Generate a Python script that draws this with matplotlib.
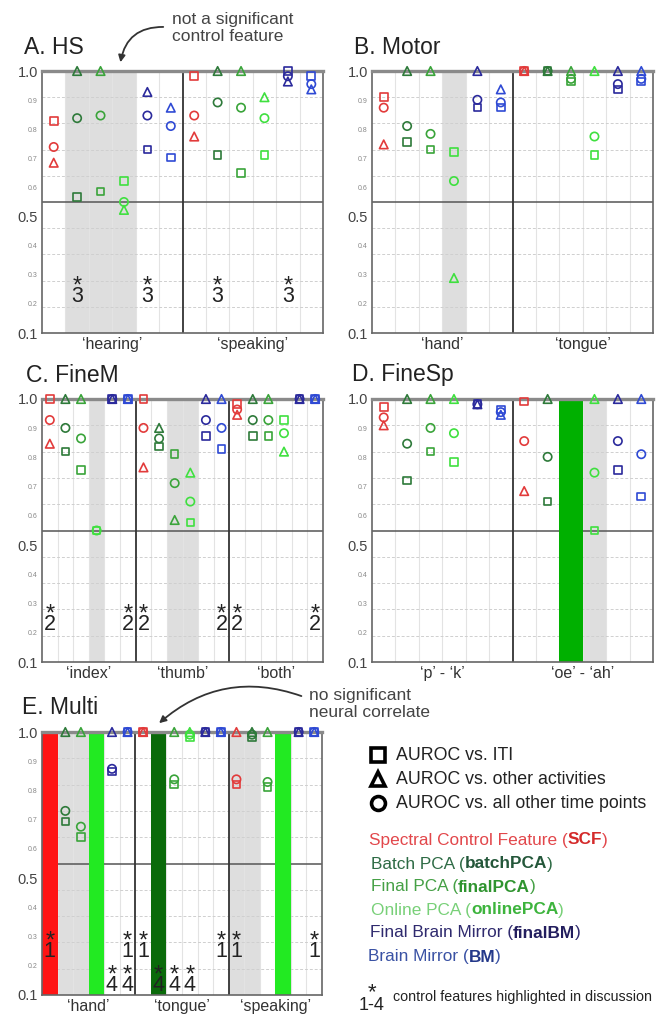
import numpy as np
import matplotlib
matplotlib.use('Agg')
import matplotlib.pyplot as plt

plt.rcParams['font.family'] = ['Liberation Sans', 'DejaVu Sans']

W, H = 657, 1017
nan = np.nan

# six feature types repeated inside every task group
methods = ['SCF', 'batchPCA', 'finalPCA', 'onlinePCA', 'finalBM', 'BM']
marker_col = ['#e23b3b', '#2e7a3a', '#3aa43a', '#3fe03f', '#2b2a9c', '#2f4ad4']
bar_col = ['#ff1414', '#0a6a0a', '#00b000', '#22ea22', '#2b2a9c', '#2f4ad4']

# A. HS
A_groups = ['\u2018hearing\u2019', '\u2018speaking\u2019']
A_sq = [0.81, 0.52, 0.54, 0.58, 0.70, 0.67, 0.98, 0.68, 0.61, 0.68, 1.00, 0.98]
A_tri = [0.65, 1.00, 1.00, 0.47, 0.92, 0.86, 0.75, 1.00, 1.00, 0.90, 0.96, 0.93]
A_cir = [0.71, 0.82, 0.83, 0.50, 0.83, 0.79, 0.83, 0.88, 0.86, 0.82, 0.98, 0.95]
A_shade = [1, 2, 3]
A_bars = []
A_stars = [([1, 4, 7, 10], '3', 0.196)]

# B. Motor
B_groups = ['\u2018hand\u2019', '\u2018tongue\u2019']
B_sq = [0.90, 0.73, 0.70, 0.69, 0.86, 0.86, 1.00, 1.00, 0.96, 0.68, 0.93, 0.96]
B_tri = [0.72, 1.00, 1.00, 0.21, 1.00, 0.93, 1.00, 1.00, 1.00, 1.00, 1.00, 1.00]
B_cir = [0.86, 0.79, 0.76, 0.58, 0.89, 0.88, 1.00, 1.00, 0.97, 0.75, 0.95, 0.97]
B_shade = [3]
B_bars = []
B_stars = []

# C. FineM
C_groups = ['\u2018index\u2019', '\u2018thumb\u2019', '\u2018both\u2019']
C_sq = [1.00, 0.80, 0.73, 0.50, 1.00, 1.00, 1.00, 0.82, 0.79, 0.53, 0.86, 0.81,
        0.98, 0.86, 0.86, 0.92, 1.00, 1.00]
C_tri = [0.83, 1.00, 1.00, nan, 1.00, 1.00, 0.74, 0.89, 0.54, 0.72, 1.00, 1.00,
         0.94, 1.00, 1.00, 0.80, 1.00, 1.00]
C_cir = [0.92, 0.89, 0.85, 0.50, 1.00, 1.00, 0.89, 0.85, 0.68, 0.61, 0.92, 0.89,
         0.96, 0.92, 0.92, 0.87, 1.00, 1.00]
C_shade = [3, 8, 9]
C_bars = []
C_stars = [([0, 5, 6, 11, 12, 17], '2', 0.2)]

# D. FineSp
D_groups = ['\u2018p\u2019 - \u2018k\u2019', '\u2018oe\u2019 - \u2018ah\u2019']
D_sq = [0.97, 0.69, 0.80, 0.76, 0.98, 0.96, 0.99, 0.61, nan, 0.50, 0.73, 0.63]
D_tri = [0.90, 1.00, 1.00, 1.00, 0.98, 0.94, 0.65, 1.00, nan, 1.00, 1.00, 1.00]
D_cir = [0.93, 0.83, 0.89, 0.87, 0.98, 0.95, 0.84, 0.78, nan, 0.72, 0.84, 0.79]
D_shade = [9]
D_bars = [8]
D_stars = []

# E. Multi
E_groups = ['\u2018hand\u2019', '\u2018tongue\u2019', '\u2018speaking\u2019']
E_sq = [nan, 0.66, 0.60, nan, 0.85, 1.00, 1.00, nan, 0.80, 0.98, 1.00, 1.00,
        0.80, 0.98, 0.79, nan, 1.00, 1.00]
E_tri = [nan, 1.00, 1.00, nan, 1.00, 1.00, 1.00, nan, 1.00, 1.00, 1.00, 1.00,
         1.00, 1.00, 1.00, nan, 1.00, 1.00]
E_cir = [nan, 0.70, 0.64, nan, 0.86, 1.00, 1.00, nan, 0.82, 0.99, 1.00, 1.00,
         0.82, 0.99, 0.81, nan, 1.00, 1.00]
E_shade = [1, 2, 12, 13]
E_bars = [0, 3, 7, 15]
E_stars = [([0, 5, 6, 11, 12, 17], '1', 0.222), ([4, 5, 7, 8, 9], '4', 0.095)]

ytick_labels = ['1.0', '0.9', '0.8', '0.7', '0.6', '0.5', '0.4', '0.3', '0.2', '0.1']


def px_rect(x0, y0, x1, y1):
    return [x0 / W, 1 - y1 / H, (x1 - x0) / W, (y1 - y0) / H]


def draw_panel(fig, rect, title, title_xy, groups, sq, tri, cir, shade, bars, stars):
    ax = fig.add_axes(px_rect(*rect))
    n = len(sq)
    x = np.arange(n)
    ax.set_xlim(-0.5, n - 0.5)
    ax.set_ylim(0, 1.0)

    for i in shade:
        ax.axvspan(i - 0.5, i + 0.5, color='#dedede', zorder=0, lw=0)
    for v in np.arange(1, 10) / 10:
        if abs(v - 0.5) < 1e-6:
            ax.axhline(v, color='#555555', lw=1.1, zorder=1.2)
        else:
            ax.axhline(v, color='#cfcfcf', lw=0.7, ls=(0, (3, 2)), zorder=1)
    for i in range(1, n):
        if i % 6 == 0:
            ax.axvline(i - 0.5, color='#333333', lw=1.3, zorder=1.3)
        else:
            ax.axvline(i - 0.5, color='#e3e3e3', lw=0.8, zorder=0.9)
    for i in bars:
        ax.axvspan(i - 0.5, i + 0.5, color=bar_col[i % 6], zorder=1.5, lw=0)

    cols = [marker_col[i % 6] for i in range(n)]
    for vals, m, s in [(cir, 'o', 36), (sq, 's', 30), (tri, '^', 38)]:
        vals = np.asarray(vals, float)
        ok = ~np.isnan(vals)
        ax.scatter(x[ok], vals[ok], marker=m, s=s, facecolors='none',
                   edgecolors=[c for c, k in zip(cols, ok) if k],
                   linewidths=1.2, zorder=3, clip_on=False)

    # asterisk + number marks (the asterisk glyph sits high, so pull it down a bit)
    for cols_s, num, ys in stars:
        for c in cols_s:
            ax.text(c, ys - 0.02, '*', ha='center', va='center', fontsize=17,
                    color='#222222', zorder=4)
            ax.text(c, ys - 0.058, num, ha='center', va='center', fontsize=15.5,
                    color='#222222', zorder=4)

    ax.set_yticks(np.linspace(1.0, 0.0, 10))
    ax.set_yticklabels(ytick_labels)
    for lbl in ax.get_yticklabels():
        if lbl.get_text() in ('1.0', '0.5', '0.1'):
            lbl.set_fontsize(10.5)
            lbl.set_color('#444444')
        else:
            lbl.set_fontsize(5)
            lbl.set_color('#888888')
    ng = len(groups)
    ax.set_xticks([6 * g + 2.5 for g in range(ng)])
    ax.set_xticklabels(groups, fontsize=11.5, color='#333333')
    ax.tick_params(length=0, pad=3)
    ax.tick_params(axis='x', pad=3)

    for sp in ['left', 'right', 'bottom']:
        ax.spines[sp].set_color('#666666')
        ax.spines[sp].set_linewidth(1.2)
    ax.spines['top'].set_color('#8a8a8a')
    ax.spines['top'].set_linewidth(2.4)

    fig.text(title_xy[0] / W, 1 - title_xy[1] / H, title, fontsize=16.5,
             color='#222222', ha='left', va='center')
    return ax


fig = plt.figure(figsize=(W / 100, H / 100), dpi=100)

axA = draw_panel(fig, (42, 71, 323, 333), 'A. HS', (24, 48), A_groups, A_sq, A_tri, A_cir,
                 A_shade, A_bars, A_stars)
axB = draw_panel(fig, (372, 71, 653, 333), 'B. Motor', (354, 48), B_groups, B_sq, B_tri, B_cir,
                 B_shade, B_bars, B_stars)
axC = draw_panel(fig, (42, 399, 323, 662), 'C. FineM', (26, 375), C_groups, C_sq, C_tri, C_cir,
                 C_shade, C_bars, C_stars)
axD = draw_panel(fig, (372, 399, 653, 662), 'D. FineSp', (352, 375), D_groups, D_sq, D_tri, D_cir,
                 D_shade, D_bars, D_stars)
axE = draw_panel(fig, (42, 732, 322, 995), 'E. Multi', (22, 708), E_groups, E_sq, E_tri, E_cir,
                 E_shade, E_bars, E_stars)

# callouts with curved arrows
fig.text(172 / W, 1 - 28 / H, 'not a significant\ncontrol feature', fontsize=12.5,
         color='#444444', ha='left', va='center', linespacing=1.15)
axA.annotate('', xy=(120, H - 65), xycoords='figure pixels', xytext=(166, H - 27),
             textcoords='figure pixels', annotation_clip=False,
             arrowprops=dict(arrowstyle='-|>', connectionstyle='arc3,rad=0.45',
                             color='#333333', lw=1.3, mutation_scale=10))
fig.text(309 / W, 1 - 704 / H, 'no significant\nneural correlate', fontsize=12.5,
         color='#444444', ha='left', va='center', linespacing=1.1)
axE.annotate('', xy=(157, H - 725), xycoords='figure pixels', xytext=(304, H - 697),
             textcoords='figure pixels', annotation_clip=False,
             arrowprops=dict(arrowstyle='-|>', connectionstyle='arc3,rad=0.3',
                             color='#333333', lw=1.3, mutation_scale=10))

# marker legend
leg = fig.add_axes([0, 0, 1, 1], facecolor='none')
leg.set_xlim(0, W)
leg.set_ylim(H, 0)
leg.axis('off')
for m, y, txt in [('s', 755, 'AUROC vs. ITI'), ('^', 779, 'AUROC vs. other activities'),
                  ('o', 803, 'AUROC vs. all other time points')]:
    leg.plot([378], [y], marker=m, ms=10, mfc='none', mec='black', mew=2.6, ls='none')
    leg.text(396, y, txt, fontsize=12.8, color='#222222', ha='left', va='center')

# colour legend with bold abbreviations
renderer = fig.canvas.get_renderer()
color_rows = [
    (369, 840, 'Spectral Control Feature (', 'SCF', ')', '#e2474b', '#d42a2a'),
    (371, 864, 'Batch PCA (', 'batchPCA', ')', '#2e6b45', '#24573a'),
    (371, 887, 'Final PCA (', 'finalPCA', ')', '#45a045', '#2f942f'),
    (371, 910, 'Online PCA (', 'onlinePCA', ')', '#78d078', '#3db43d'),
    (370, 933, 'Final Brain Mirror (', 'finalBM', ')', '#2f2a6e', '#231e5e'),
    (368, 957, 'Brain Mirror (', 'BM', ')', '#3a52a4', '#24398a'),
]
for x0, y0, a, b, c, col, bcol in color_rows:
    xx = x0
    for s, cc, wt in [(a, col, 'normal'), (b, bcol, 'bold'), (c, col, 'normal')]:
        t = leg.text(xx, y0, s, fontsize=12.4, color=cc, weight=wt, ha='left', va='center')
        xx += t.get_window_extent(renderer).width

leg.text(372, 993, '*', fontsize=16, color='#222222', ha='center', va='center')
leg.text(372, 1005, '1-4', fontsize=13, color='#222222', ha='center', va='center')
leg.text(393, 997, 'control features highlighted in discussion', fontsize=10.3,
         color='#222222', ha='left', va='center')

fig.savefig('out.png', dpi=100)
